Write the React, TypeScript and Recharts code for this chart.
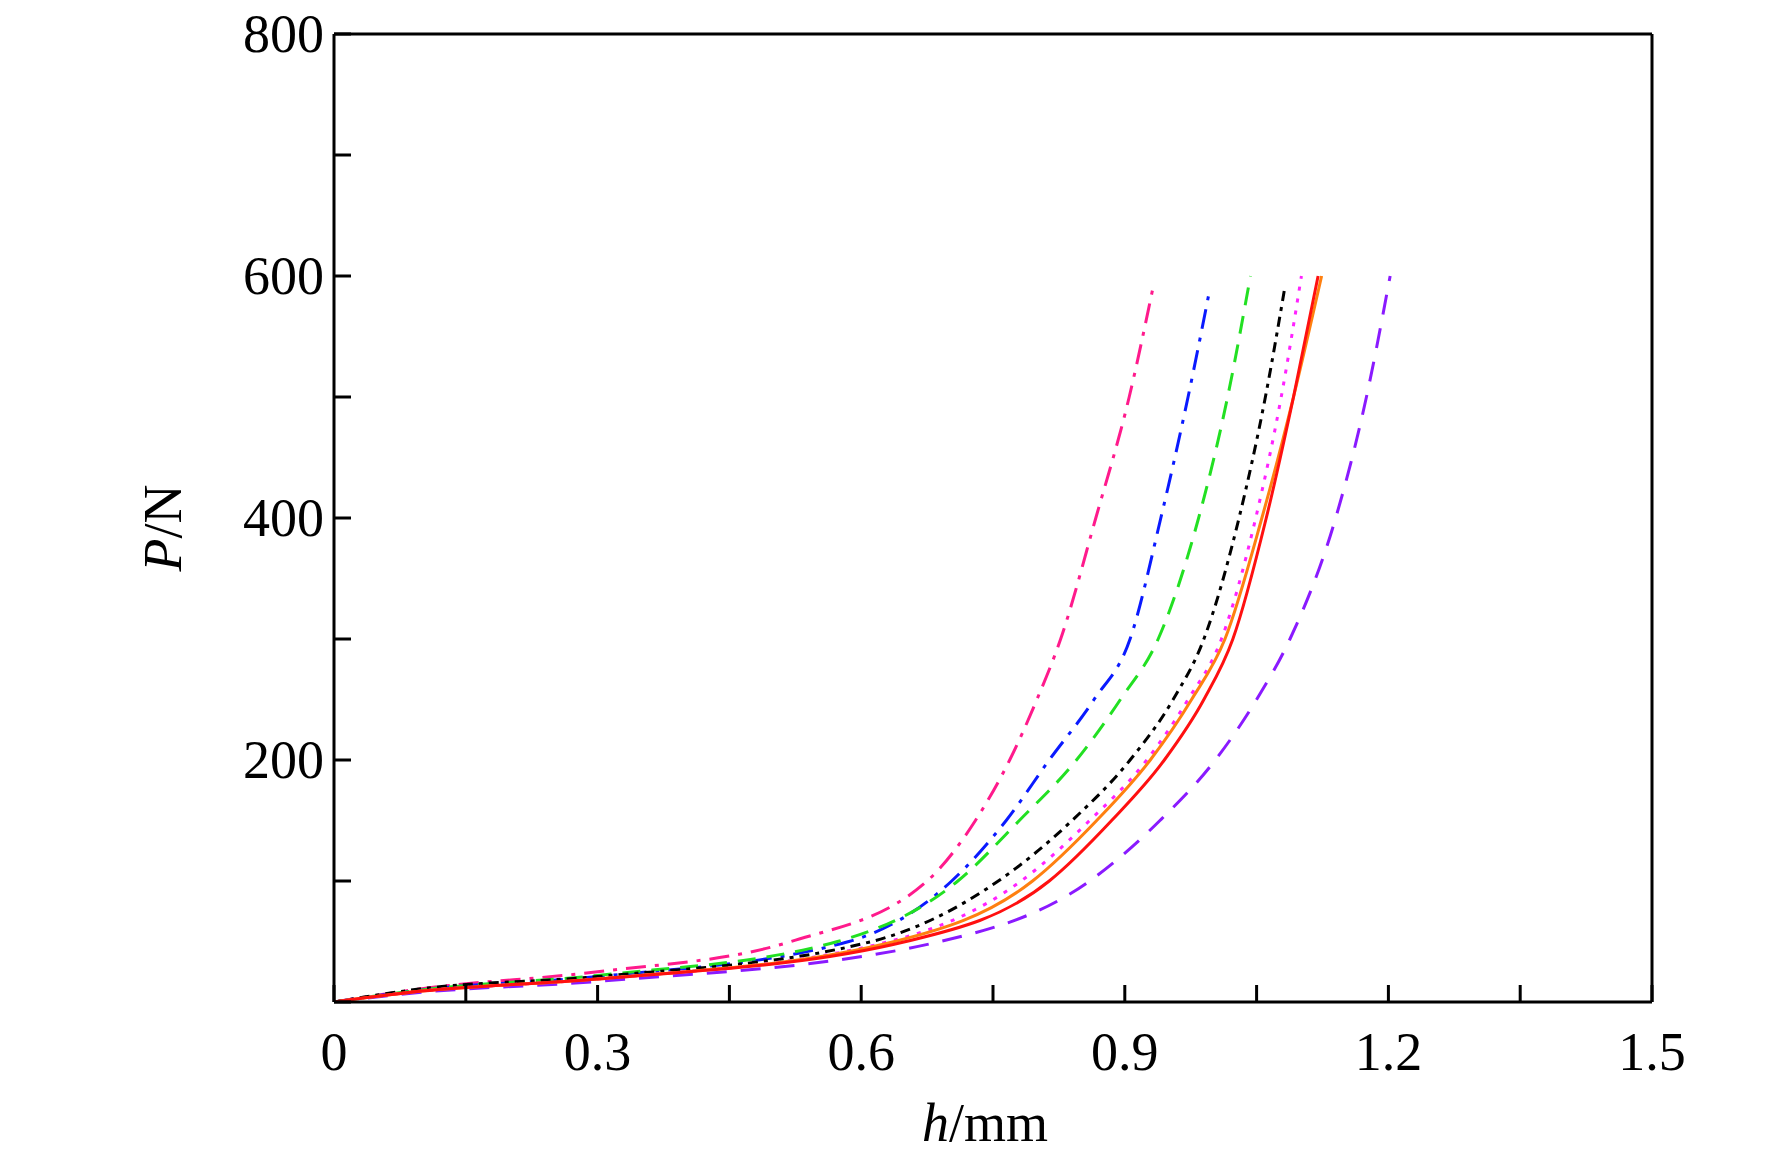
import React from "react";
import { LineChart, Line, XAxis, YAxis } from "recharts";

const pinkX = [0, 0.1, 0.3, 0.52, 0.675, 0.73, 0.769, 0.80, 0.827, 0.867, 0.905, 0.932];
const pinkY = [0, 11, 25, 50, 100, 150, 200, 250, 300, 400, 500, 590];
const blueX = [0, 0.1, 0.3, 0.586, 0.703, 0.765, 0.814, 0.865, 0.906, 0.941, 0.972, 0.997];
const blueY = [0, 10, 21, 50, 100, 150, 200, 250, 300, 400, 500, 590];
const greenX = [0, 0.1, 0.3, 0.573, 0.71, 0.78, 0.845, 0.895, 0.938, 0.984, 1.017, 1.043];
const greenY = [0, 10, 22, 50, 100, 150, 200, 250, 300, 400, 500, 600];
const blackX = [0, 0.1, 0.3, 0.612, 0.756, 0.84, 0.906, 0.955, 0.99, 1.03, 1.06, 1.082];
const blackY = [0, 11, 21, 50, 100, 150, 200, 250, 300, 400, 500, 590];
const magentaX = [0, 0.1, 0.3, 0.632, 0.782, 0.86, 0.925, 0.972, 1.01, 1.049, 1.078, 1.101];
const magentaY = [0, 9, 19, 50, 100, 150, 200, 250, 300, 400, 500, 600];
const orangeX = [0, 0.1, 0.3, 0.638, 0.795, 0.868, 0.929, 0.976, 1.014, 1.056, 1.092, 1.124];
const orangeY = [0, 9, 19, 50, 100, 150, 200, 250, 300, 400, 500, 600];
const redX = [0, 0.1, 0.3, 0.651, 0.814, 0.885, 0.945, 0.99, 1.023, 1.061, 1.092, 1.12];
const redY = [0, 9, 19, 50, 100, 150, 200, 250, 300, 400, 500, 600];
const purpleX = [0, 0.1, 0.3, 0.69, 0.86, 0.94, 1.003, 1.05, 1.088, 1.14, 1.175, 1.202];
const purpleY = [0, 8, 17, 50, 100, 150, 200, 250, 300, 400, 500, 600];

const xTicks = [0, 0.15, 0.3, 0.45, 0.6, 0.75, 0.9, 1.05, 1.2, 1.35, 1.5];
const xLabels = ["0", "0.3", "0.6", "0.9", "1.2", "1.5"];
const yTicks = [0, 100, 200, 300, 400, 500, 600, 700, 800];
const yLabels = ["200", "400", "600", "800"];

const series = [
  { name: "pink", x: pinkX, y: pinkY, color: "#ff1a8c", dash: "20 9 4 9" },
  { name: "blue", x: blueX, y: blueY, color: "#0a1aff", dash: "20 9 4 9" },
  { name: "green", x: greenX, y: greenY, color: "#22e022", dash: "18 11" },
  { name: "black", x: blackX, y: blackY, color: "#000000", dash: "10 6 4 6" },
  { name: "magenta", x: magentaX, y: magentaY, color: "#ff22ff", dash: "4 8" },
  { name: "purple", x: purpleX, y: purpleY, color: "#8a1aff", dash: "20 14" },
  { name: "orange", x: orangeX, y: orangeY, color: "#ff8010", dash: undefined },
  { name: "red", x: redX, y: redY, color: "#ff1010", dash: undefined },
];

const font = "'Liberation Serif', 'Times New Roman', serif";
const fmt = (v: number) => (Math.round(v * 100) / 100).toString();

const XTick = (props: any) => {
  const { x, y, payload } = props;
  const lbl = fmt(payload.value);
  const show = xLabels.includes(lbl);
  return (
    <g>
      <line x1={x} x2={x} y1={y} y2={y - 17} stroke="#000" strokeWidth={3} />
      {show && (
        <text x={x} y={y + 68} textAnchor="middle" fontFamily={font} fontSize={54} fill="#000">
          {lbl}
        </text>
      )}
    </g>
  );
};

const YTick = (props: any) => {
  const { x, y, payload } = props;
  const lbl = String(payload.value);
  const show = yLabels.includes(lbl);
  return (
    <g>
      <line x1={x} x2={x + 17} y1={y} y2={y} stroke="#000" strokeWidth={3} />
      {show && (
        <text x={x - 10} y={y + 18} textAnchor="end" fontFamily={font} fontSize={54} fill="#000">
          {lbl}
        </text>
      )}
    </g>
  );
};

export default function App() {
  return (
    <div style={{ position: "relative", width: 1764, height: 1161, background: "#fff" }}>
      <LineChart width={1764} height={1161} margin={{ top: 25, left: 266, right: 119, bottom: 107 }}>
        <XAxis xAxisId="b" type="number" dataKey="x" domain={[0, 1.5]} ticks={xTicks} tick={<XTick />}
          tickLine={false} tickSize={0} tickMargin={0} height={60} interval={0}
          axisLine={{ stroke: "#000", strokeWidth: 3 }} allowDataOverflow />
        <XAxis xAxisId="t" orientation="top" type="number" dataKey="x" domain={[0, 1.5]} tick={false}
          tickLine={false} height={1} axisLine={{ stroke: "#000", strokeWidth: 3 }} />
        <YAxis yAxisId="l" type="number" domain={[0, 800]} ticks={yTicks} tick={<YTick />} interval={0}
          tickLine={false} tickSize={0} tickMargin={0} width={60}
          axisLine={{ stroke: "#000", strokeWidth: 3 }} allowDataOverflow />
        <YAxis yAxisId="r" orientation="right" type="number" domain={[0, 800]} tick={false}
          tickLine={false} width={1} axisLine={{ stroke: "#000", strokeWidth: 3 }} />
        {series.map((s) => (
          <Line key={s.name} xAxisId="b" yAxisId="l" data={s.x.map((v, i) => ({ x: v, y: s.y[i] }))}
            dataKey="y" type="monotone" stroke={s.color} strokeWidth={3} strokeDasharray={s.dash}
            dot={false} isAnimationActive={false} />
        ))}
      </LineChart>
      <div style={{ position: "absolute", left: 0, right: 0, top: 1085, textAlign: "center", paddingLeft: 190,
        fontFamily: font, fontSize: 54, lineHeight: "60px" }}>
        <i>h</i>/mm
      </div>
      <div style={{ position: "absolute", left: 155, top: 520, transform: "translate(-50%, -50%) rotate(-90deg)",
        fontFamily: font, fontSize: 54, whiteSpace: "nowrap" }}>
        <i>P</i>/N
      </div>
    </div>
  );
}
